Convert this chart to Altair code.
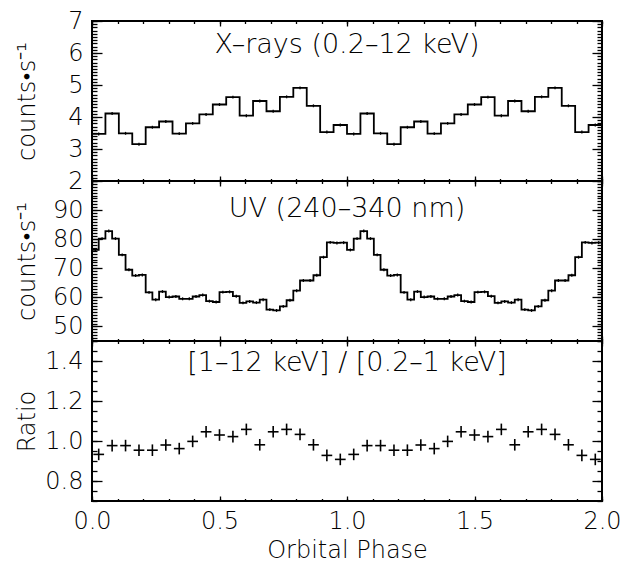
import altair as alt
import pandas as pd

# ---------------- data (one orbital cycle, repeated twice) ----------------
xray_counts = [3.47, 4.11, 3.49, 3.15, 3.68, 3.86, 3.48, 3.80, 4.08, 4.39,
               4.62, 4.04, 4.50, 4.18, 4.63, 4.91, 4.35, 3.53, 3.75]
xray_err = 0.045

uv_counts = [76.3, 80.2, 82.8, 80.2, 74.6, 69.5, 67.5, 67.7, 61.7, 59.2,
             62.0, 60.1, 60.3, 59.5, 59.5, 60.3, 60.8, 58.7, 58.4, 61.8,
             61.9, 60.4, 58.1, 58.6, 58.2, 59.2, 55.8, 55.5, 56.9, 59.0,
             62.3, 65.8, 65.8, 67.6, 73.8, 78.9, 78.7, 78.8]
uv_err = 0.5

ratio_vals = [0.933, 0.977, 0.977, 0.954, 0.954, 0.980, 0.962, 0.998, 1.046, 1.030,
              1.022, 1.058, 0.981, 1.046, 1.058, 1.033, 0.981, 0.928, 0.908]
ratio_err = 0.029

x_major = [0.0, 0.5, 1.0, 1.5, 2.0]
x_minor = [i / 10 for i in range(21)]

xray_domain = [2, 7]
xray_major = [2, 3, 4, 5, 6, 7]
xray_minor = [2 + i / 10 for i in range(51)]

uv_domain = [45, 100]
uv_major = [50, 60, 70, 80, 90]
uv_minor = list(range(45, 101))

ratio_domain = [0.7, 1.5]
ratio_major = [0.8, 1.0, 1.2, 1.4]
ratio_minor = [round(0.7 + i * 0.05, 2) for i in range(17)]

titles = ["X\u2013rays (0.2\u201312 keV)", "UV (240\u2013340 nm)", "[1\u201312 keV] / [0.2\u20131 keV]"]
ytitles = ["counts\u2022s\u207b\u00b9", "counts\u2022s\u207b\u00b9", "Ratio"]

# ---------------- layout / style ----------------
W = 510
H = 160
FONT = "DejaVu Sans"
FW = 200
FS = 24


def step_table(values):
    n = len(values)
    phase = [k / n for k in range(2 * n)] + [2.0]
    vals = [values[k % n] for k in range(2 * n)] + [values[-1]]
    return pd.DataFrame({"phase": phase, "value": vals})


def center_table(values, err):
    n = len(values)
    c = [(k + 0.5) / n for k in range(2 * n)]
    v = [values[k % n] for k in range(2 * n)]
    return pd.DataFrame({
        "phase": c, "value": v,
        "lo": [x - err for x in v], "hi": [x + err for x in v],
        "left": [p - 0.4 / n for p in c], "right": [p + 0.4 / n for p in c],
    })


def tick_axis(orient, values, size):
    return alt.Axis(orient=orient, values=values, tickSize=size, offset=-size,
                    labels=False, domain=False, grid=False, title=None,
                    ticks=True, tickColor="black", tickWidth=1.3)


def panel(values, err, ydom, ymaj, ymin_, yfmt, ytitle, label, label_y, kind, bottom):
    xs = alt.Scale(domain=[0, 2], nice=False, zero=False)
    ys = alt.Scale(domain=ydom, nice=False, zero=False)
    cdf = center_table(values, err)
    layers = []
    if kind == "step":
        sdf = step_table(values)
        layers.append(alt.Chart(sdf).mark_line(interpolate="step-after", color="black", strokeWidth=1.8).encode(
            x=alt.X("phase:Q", scale=xs, axis=tick_axis("bottom", x_major, 5)),
            y=alt.Y("value:Q", scale=ys, axis=tick_axis("left", ymaj, 10)),
        ))
        layers.append(alt.Chart(cdf).mark_rule(color="black", strokeWidth=1.3).encode(
            x=alt.X("phase:Q", scale=xs, axis=tick_axis("bottom", x_minor, 2.5)),
            y=alt.Y("lo:Q", scale=ys, axis=tick_axis("left", ymin_, 5)),
            y2="hi:Q",
        ))
    else:
        layers.append(alt.Chart(cdf).mark_rule(color="black", strokeWidth=1.6).encode(
            x=alt.X("phase:Q", scale=xs, axis=tick_axis("bottom", x_major, 5)),
            y=alt.Y("lo:Q", scale=ys, axis=tick_axis("left", ymaj, 10)),
            y2="hi:Q",
        ))
        layers.append(alt.Chart(cdf).mark_rule(color="black", strokeWidth=1.6).encode(
            x=alt.X("left:Q", scale=xs, axis=tick_axis("bottom", x_minor, 2.5)),
            x2="right:Q",
            y=alt.Y("value:Q", scale=ys, axis=tick_axis("left", ymin_, 5)),
        ))
    inv = alt.Chart(cdf).mark_point(opacity=0)
    layers.append(inv.encode(
        x=alt.X("phase:Q", scale=xs, axis=tick_axis("top", x_major, 5)),
        y=alt.Y("value:Q", scale=ys, axis=tick_axis("right", ymaj, 10)),
    ))
    layers.append(inv.encode(
        x=alt.X("phase:Q", scale=xs, axis=tick_axis("top", x_minor, 2.5)),
        y=alt.Y("value:Q", scale=ys, axis=tick_axis("right", ymin_, 5)),
    ))
    if bottom:
        xlab = alt.Axis(orient="bottom", values=x_major, format=".1f", ticks=False, domain=False,
                        grid=False, labelPadding=8, labelFlush=False, labelOverlap=False,
                        title="Orbital Phase", titlePadding=5)
    else:
        xlab = None
    ylab = alt.Axis(orient="left", values=ymaj, format=yfmt, ticks=False, domain=False, grid=False,
                    labelPadding=9, labelFlush=False, labelOverlap=False,
                    title=ytitle, titleX=-65, titleBaseline="middle")
    layers.append(inv.encode(
        x=alt.X("phase:Q", scale=xs, axis=xlab),
        y=alt.Y("value:Q", scale=ys, axis=ylab),
    ))
    layers.append(alt.Chart(pd.DataFrame({"t": [label]})).mark_text(
        font=FONT, fontSize=27, fontWeight=FW, color="black", baseline="middle").encode(
        text="t:N", x=alt.value(W / 2), y=alt.value(label_y)))
    return alt.layer(*layers).resolve_axis(x="independent", y="independent").properties(width=W, height=H)


top = panel(xray_counts, xray_err, xray_domain, xray_major, xray_minor, "d", ytitles[0], titles[0], 24, "step", False)
mid = panel(uv_counts, uv_err, uv_domain, uv_major, uv_minor, "d", ytitles[1], titles[1], 28, "step", False)
bot = panel(ratio_vals, ratio_err, ratio_domain, ratio_major, ratio_minor, ".1f", ytitles[2], titles[2], 22, "plus", True)

chart = alt.vconcat(top, mid, bot, spacing=0, bounds="flush").properties(
    padding={"left": 5, "top": 0, "right": 0, "bottom": 0}
).configure_view(stroke="black", strokeWidth=2).configure_axis(
    labelFont=FONT, labelFontSize=FS, labelColor="black", labelFontWeight=FW,
    titleFont=FONT, titleFontSize=FS, titleColor="black", titleFontWeight=FW,
)

chart.save("out.html", embed_options={"renderer": "svg", "actions": False})
